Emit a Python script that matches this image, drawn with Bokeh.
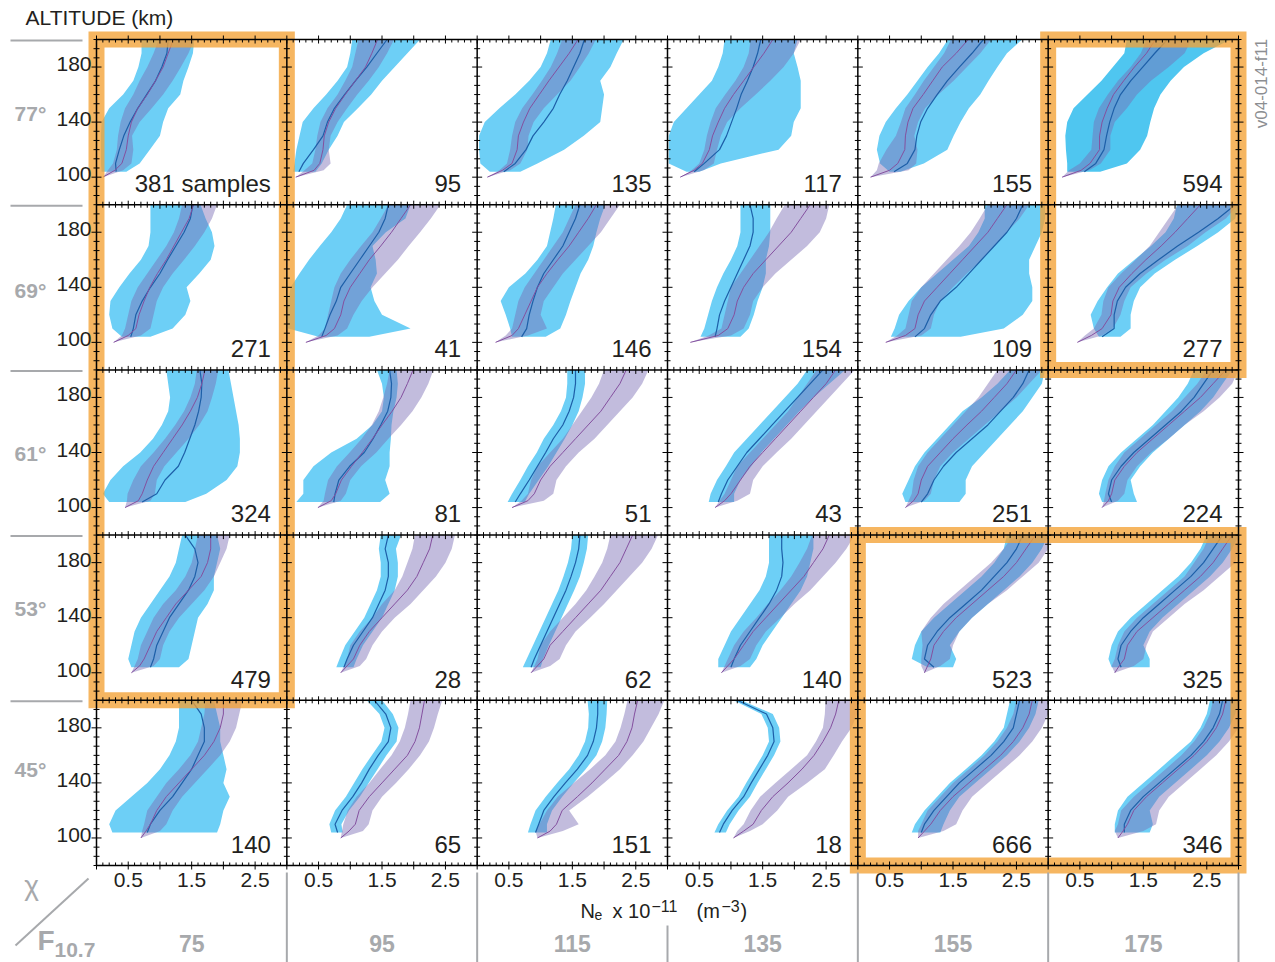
import numpy as np
from bokeh.plotting import figure
from bokeh.models import Range1d, ColumnDataSource
from bokeh.core.properties import value
from bokeh.embed import file_html
from bokeh.resources import INLINE

# ---------------- data ----------------
CHI = ["77°", "69°", "61°", "53°", "45°"]
CHI_LABEL_ALT = [146, 138, 139, 147, 150]      # altitude level of each row label
F107 = ["75", "95", "115", "135", "155", "175"]
SAMPLES = [381, 95, 135, 117, 155, 594,
           271, 41, 146, 154, 109, 277,
           324, 81, 51, 43, 251, 224,
           479, 28, 62, 140, 523, 325,
           140, 65, 151, 18, 666, 346]
X_TICK_LABELS = ["0.5", "1.5", "2.5"]
Y_TICK_LABELS = ["100", "140", "180"]
ALT_MODEL = [100, 105, 110, 120, 130, 140, 150, 160, 170, 180, 190, 200]
ALT_DATA = [104, 110, 120, 130, 140, 150, 160, 170, 180, 190, 200]
HIGHLIGHT = [(0, 0, 0, 3), (5, 5, 0, 1), (4, 5, 3, 4)]  # col0, col1, row0, row1

MODEL_MID = [
    [0.10, 0.29, 0.40, 0.47, 0.50, 0.55, 0.65, 0.80, 0.93, 1.05, 1.13, 1.21],
    [0.14, 0.43, 0.52, 0.57, 0.59, 0.66, 0.77, 0.92, 1.08, 1.24, 1.34, 1.43],
    [0.16, 0.40, 0.55, 0.63, 0.65, 0.73, 0.83, 0.98, 1.13, 1.29, 1.45, 1.59],
    [0.20, 0.42, 0.55, 0.66, 0.71, 0.80, 0.90, 1.04, 1.20, 1.36, 1.52, 1.66],
    [0.20, 0.50, 0.63, 0.74, 0.75, 0.79, 0.87, 1.03, 1.18, 1.33, 1.55, 1.74],
    [0.22, 0.52, 0.66, 0.81, 0.81, 0.85, 0.93, 1.03, 1.19, 1.36, 1.55, 1.69],
    [0.27, 0.50, 0.62, 0.67, 0.75, 0.84, 0.96, 1.10, 1.22, 1.34, 1.46, 1.53],
    [0.30, 0.62, 0.75, 0.85, 0.90, 1.00, 1.15, 1.30, 1.48, 1.65, 1.80, 1.95],
    [0.29, 0.55, 0.65, 0.75, 0.85, 0.95, 1.10, 1.27, 1.45, 1.60, 1.75, 1.88],
    [0.36, 0.80, 0.95, 1.05, 1.10, 1.20, 1.35, 1.55, 1.75, 1.95, 2.10, 2.25],
    [0.44, 0.75, 0.90, 0.95, 1.05, 1.25, 1.45, 1.65, 1.85, 2.05, 2.20, 2.35],
    [0.46, 0.68, 0.85, 0.99, 1.02, 1.12, 1.32, 1.54, 1.78, 2.00, 2.20, 2.40],
    [0.45, 0.66, 0.72, 0.80, 0.90, 1.05, 1.20, 1.35, 1.48, 1.59, 1.66, 1.71],
    [0.49, 0.70, 0.77, 0.86, 1.02, 1.19, 1.35, 1.50, 1.66, 1.80, 1.90, 1.99],
    [0.55, 0.80, 0.90, 1.00, 1.15, 1.35, 1.55, 1.75, 1.95, 2.10, 2.25, 2.35],
    [0.75, 0.90, 1.00, 1.15, 1.30, 1.50, 1.70, 1.90, 2.10, 2.30, 2.50, 2.65],
    [0.75, 0.88, 0.95, 1.00, 1.10, 1.30, 1.50, 1.72, 1.95, 2.15, 2.35, 2.50],
    [0.85, 0.95, 1.00, 1.05, 1.20, 1.40, 1.65, 1.90, 2.15, 2.40, 2.60, 2.80],
    [0.55, 0.68, 0.75, 0.85, 0.95, 1.10, 1.25, 1.45, 1.65, 1.75, 1.80, 1.80],
    [0.85, 0.95, 1.05, 1.15, 1.30, 1.50, 1.70, 1.90, 2.05, 2.15, 2.25, 2.30],
    [0.85, 0.95, 1.05, 1.15, 1.35, 1.55, 1.75, 1.95, 2.10, 2.25, 2.35, 2.45],
    [0.85, 0.95, 1.05, 1.20, 1.35, 1.55, 1.75, 1.95, 2.15, 2.30, 2.45, 2.55],
    [1.05, 1.10, 1.15, 1.20, 1.35, 1.55, 1.80, 2.05, 2.30, 2.50, 2.65, 2.80],
    [1.05, 1.12, 1.20, 1.25, 1.40, 1.65, 1.90, 2.15, 2.40, 2.60, 2.75, 2.90],
    [0.70, 0.78, 0.85, 0.95, 1.10, 1.30, 1.50, 1.70, 1.85, 1.95, 2.00, 2.00],
    [0.85, 0.98, 1.08, 1.14, 1.30, 1.50, 1.70, 1.90, 2.02, 2.09, 2.13, 2.17],
    [0.95, 1.15, 1.25, 1.34, 1.58, 1.81, 2.02, 2.23, 2.36, 2.44, 2.48, 2.53],
    [1.04, 1.20, 1.35, 1.48, 1.66, 1.90, 2.12, 2.31, 2.45, 2.57, 2.65, 2.70],
    [0.95, 1.05, 1.15, 1.30, 1.50, 1.75, 2.00, 2.25, 2.45, 2.60, 2.70, 2.75],
    [1.10, 1.18, 1.25, 1.35, 1.55, 1.80, 2.05, 2.30, 2.50, 2.65, 2.75, 2.80],
]
MODEL_LO = [
    [0.10, 0.18, 0.26, 0.32, 0.34, 0.38, 0.45, 0.58, 0.68, 0.80, 0.90, 0.98],
    [0.14, 0.28, 0.40, 0.45, 0.48, 0.53, 0.64, 0.80, 0.92, 1.03, 1.08, 1.13],
    [0.16, 0.35, 0.47, 0.52, 0.55, 0.60, 0.71, 0.87, 1.02, 1.16, 1.26, 1.34],
    [0.20, 0.38, 0.50, 0.58, 0.62, 0.68, 0.76, 0.91, 1.07, 1.20, 1.28, 1.31],
    [0.20, 0.30, 0.33, 0.45, 0.60, 0.68, 0.75, 0.90, 1.04, 1.20, 1.36, 1.47],
    [0.22, 0.33, 0.50, 0.68, 0.70, 0.72, 0.80, 0.94, 1.10, 1.30, 1.46, 1.55],
    [0.27, 0.40, 0.45, 0.50, 0.55, 0.65, 0.80, 0.95, 1.10, 1.22, 1.30, 1.35],
    [0.30, 0.50, 0.60, 0.65, 0.70, 0.75, 0.85, 1.00, 1.17, 1.35, 1.48, 1.60],
    [0.29, 0.45, 0.55, 0.60, 0.65, 0.75, 0.90, 1.05, 1.20, 1.35, 1.45, 1.55],
    [0.36, 0.65, 0.85, 0.90, 0.95, 1.00, 1.15, 1.30, 1.45, 1.60, 1.72, 1.85],
    [0.44, 0.62, 0.75, 0.80, 0.85, 1.00, 1.20, 1.40, 1.60, 1.78, 1.92, 2.05],
    [0.46, 0.58, 0.72, 0.84, 0.87, 0.95, 1.15, 1.38, 1.60, 1.75, 1.90, 2.05],
    [0.45, 0.48, 0.49, 0.58, 0.70, 0.90, 1.08, 1.24, 1.38, 1.48, 1.55, 1.58],
    [0.49, 0.58, 0.60, 0.65, 0.79, 0.99, 1.18, 1.34, 1.45, 1.52, 1.58, 1.62],
    [0.55, 0.70, 0.80, 0.85, 0.95, 1.15, 1.35, 1.50, 1.65, 1.80, 1.92, 2.00],
    [0.75, 0.82, 0.90, 1.00, 1.10, 1.30, 1.50, 1.70, 1.90, 2.05, 2.20, 2.35],
    [0.75, 0.80, 0.85, 0.88, 0.95, 1.10, 1.30, 1.50, 1.70, 1.90, 2.05, 2.20],
    [0.85, 0.88, 0.90, 0.95, 1.05, 1.20, 1.45, 1.70, 1.95, 2.15, 2.35, 2.50],
    [0.55, 0.60, 0.65, 0.70, 0.80, 0.90, 1.05, 1.25, 1.40, 1.50, 1.55, 1.60],
    [0.85, 0.90, 0.95, 1.00, 1.15, 1.35, 1.50, 1.70, 1.82, 1.90, 1.98, 2.02],
    [0.85, 0.90, 0.95, 1.00, 1.15, 1.35, 1.55, 1.72, 1.85, 1.97, 2.05, 2.10],
    [0.85, 0.90, 0.95, 1.05, 1.20, 1.40, 1.58, 1.78, 1.95, 2.08, 2.20, 2.28],
    [1.05, 1.00, 1.00, 1.02, 1.00, 1.15, 1.35, 1.60, 1.85, 2.10, 2.30, 2.45],
    [1.05, 1.00, 1.05, 1.10, 1.20, 1.40, 1.65, 1.90, 2.15, 2.30, 2.45, 2.55],
    [0.70, 0.72, 0.75, 0.80, 0.95, 1.10, 1.30, 1.48, 1.60, 1.65, 1.70, 1.72],
    [0.85, 0.87, 0.89, 0.96, 1.10, 1.30, 1.47, 1.65, 1.78, 1.86, 1.91, 1.95],
    [0.95, 0.92, 0.98, 1.10, 1.27, 1.52, 1.78, 2.02, 2.18, 2.26, 2.32, 2.37],
    [1.04, 1.10, 1.20, 1.31, 1.46, 1.70, 1.95, 2.20, 2.34, 2.45, 2.48, 2.49],
    [0.95, 0.95, 1.00, 1.10, 1.30, 1.50, 1.75, 2.00, 2.20, 2.35, 2.45, 2.50],
    [1.10, 1.05, 1.10, 1.15, 1.35, 1.60, 1.85, 2.10, 2.30, 2.45, 2.55, 2.60],
]
MODEL_HI = [
    [0.10, 0.42, 0.55, 0.58, 0.56, 0.68, 0.87, 1.05, 1.20, 1.33, 1.45, 1.54],
    [0.14, 0.58, 0.69, 0.66, 0.69, 0.80, 0.95, 1.11, 1.29, 1.45, 1.58, 1.69],
    [0.16, 0.52, 0.68, 0.79, 0.81, 0.89, 1.05, 1.26, 1.47, 1.62, 1.76, 1.87],
    [0.20, 0.57, 0.73, 0.78, 0.84, 0.94, 1.15, 1.39, 1.62, 1.83, 1.99, 2.10],
    [0.20, 0.80, 0.92, 0.94, 0.89, 0.95, 1.06, 1.27, 1.51, 1.72, 1.93, 2.10],
    [0.22, 0.65, 0.83, 0.98, 0.98, 1.05, 1.24, 1.40, 1.62, 1.90, 2.15, 2.26],
    [0.27, 0.70, 0.85, 0.90, 0.95, 1.05, 1.20, 1.38, 1.55, 1.70, 1.82, 1.90],
    [0.30, 0.80, 0.95, 1.05, 1.18, 1.35, 1.55, 1.75, 1.92, 2.10, 2.27, 2.42],
    [0.29, 0.80, 1.10, 1.00, 1.05, 1.20, 1.35, 1.55, 1.75, 1.95, 2.10, 2.25],
    [0.36, 1.00, 1.20, 1.30, 1.35, 1.50, 1.70, 1.95, 2.20, 2.40, 2.50, 2.55],
    [0.44, 1.00, 1.15, 1.20, 1.30, 1.50, 1.72, 1.95, 2.15, 2.35, 2.55, 2.70],
    [0.46, 0.85, 1.02, 1.14, 1.20, 1.30, 1.55, 1.85, 2.20, 2.48, 2.80, 3.00],
    [0.45, 0.85, 0.92, 0.95, 1.07, 1.26, 1.45, 1.62, 1.75, 1.82, 1.88, 1.92],
    [0.49, 0.85, 0.93, 1.00, 1.17, 1.41, 1.60, 1.80, 1.98, 2.12, 2.23, 2.31],
    [0.55, 1.05, 1.20, 1.25, 1.40, 1.60, 1.85, 2.05, 2.25, 2.45, 2.60, 2.70],
    [0.75, 1.10, 1.30, 1.35, 1.50, 1.72, 1.95, 2.15, 2.35, 2.55, 2.75, 2.95],
    [0.75, 1.05, 1.15, 1.20, 1.30, 1.50, 1.75, 2.00, 2.25, 2.50, 2.70, 2.90],
    [0.85, 1.10, 1.20, 1.25, 1.40, 1.62, 1.90, 2.15, 2.45, 2.70, 2.90, 3.00],
    [0.55, 0.90, 1.00, 1.05, 1.15, 1.30, 1.50, 1.70, 1.85, 1.95, 2.05, 2.10],
    [0.85, 1.15, 1.25, 1.35, 1.50, 1.70, 1.95, 2.15, 2.35, 2.50, 2.60, 2.65],
    [0.85, 1.15, 1.30, 1.40, 1.55, 1.78, 2.00, 2.20, 2.40, 2.60, 2.75, 2.85],
    [0.85, 1.15, 1.30, 1.40, 1.55, 1.78, 2.00, 2.25, 2.45, 2.65, 2.82, 2.95],
    [1.05, 1.30, 1.45, 1.50, 1.60, 1.80, 2.05, 2.35, 2.60, 2.85, 3.00, 3.00],
    [1.05, 1.35, 1.50, 1.55, 1.65, 1.90, 2.15, 2.45, 2.70, 2.95, 3.00, 3.00],
    [0.70, 1.00, 1.10, 1.20, 1.35, 1.55, 1.75, 1.95, 2.10, 2.20, 2.25, 2.30],
    [0.85, 1.20, 1.29, 1.35, 1.50, 1.72, 1.92, 2.10, 2.24, 2.32, 2.38, 2.45],
    [0.95, 1.35, 1.60, 1.45, 1.74, 2.00, 2.25, 2.45, 2.62, 2.74, 2.86, 2.95],
    [1.04, 1.30, 1.50, 1.73, 1.90, 2.20, 2.48, 2.62, 2.75, 2.90, 2.99, 3.00],
    [0.95, 1.35, 1.55, 1.65, 1.80, 2.05, 2.30, 2.55, 2.75, 2.90, 3.00, 3.00],
    [1.10, 1.50, 1.70, 1.75, 1.90, 2.15, 2.40, 2.65, 2.85, 3.00, 3.00, 3.00],
]
DATA_MID = [
    [0.31, 0.30, 0.36, 0.43, 0.53, 0.65, 0.79, 0.93, 1.03, 1.11, 1.13],
    [0.19, 0.26, 0.42, 0.57, 0.64, 0.75, 0.91, 1.08, 1.26, 1.42, 1.58],
    [0.42, 0.60, 0.77, 0.88, 1.05, 1.20, 1.30, 1.42, 1.52, 1.62, 1.69],
    [0.42, 0.58, 0.82, 0.93, 1.01, 1.09, 1.16, 1.26, 1.35, 1.42, 1.47],
    [0.57, 0.78, 0.90, 0.93, 0.99, 1.10, 1.25, 1.41, 1.60, 1.80, 1.98],
    [0.57, 0.75, 0.88, 0.92, 0.97, 1.04, 1.14, 1.30, 1.49, 1.68, 1.88],
    [0.54, 0.58, 0.62, 0.72, 0.85, 1.00, 1.12, 1.25, 1.38, 1.48, 1.52],
    [0.55, 0.60, 0.68, 0.78, 0.85, 1.00, 1.15, 1.30, 1.45, 1.55, 1.60],
    [0.70, 0.78, 0.82, 0.88, 0.95, 1.05, 1.20, 1.35, 1.45, 1.55, 1.62],
    [0.75, 0.78, 0.82, 0.90, 1.00, 1.10, 1.20, 1.30, 1.35, 1.35, 1.30],
    [0.90, 1.05, 1.15, 1.30, 1.55, 1.75, 1.95, 2.15, 2.35, 2.50, 2.60],
    [0.85, 1.04, 1.04, 1.09, 1.22, 1.45, 1.74, 2.04, 2.37, 2.68, 2.95],
    [0.72, 0.95, 1.08, 1.29, 1.39, 1.47, 1.55, 1.61, 1.65, 1.66, 1.63],
    [0.74, 0.76, 0.82, 0.99, 1.22, 1.36, 1.48, 1.59, 1.64, 1.65, 1.62],
    [0.60, 0.68, 0.82, 0.95, 1.08, 1.20, 1.35, 1.45, 1.52, 1.55, 1.55],
    [0.80, 0.85, 0.95, 1.10, 1.25, 1.45, 1.65, 1.85, 2.05, 2.25, 2.45],
    [1.00, 1.10, 1.20, 1.35, 1.55, 1.80, 2.05, 2.25, 2.45, 2.60, 2.70],
    [1.00, 0.95, 1.00, 1.15, 1.35, 1.60, 1.85, 2.10, 2.30, 2.45, 2.60],
    [0.85, 0.90, 0.95, 1.05, 1.15, 1.30, 1.45, 1.55, 1.60, 1.55, 1.40],
    [0.90, 0.95, 1.05, 1.20, 1.35, 1.45, 1.55, 1.60, 1.60, 1.55, 1.60],
    [0.85, 0.90, 1.00, 1.10, 1.20, 1.30, 1.40, 1.48, 1.55, 1.60, 1.62],
    [1.00, 1.05, 1.15, 1.30, 1.45, 1.60, 1.72, 1.80, 1.82, 1.80, 1.80],
    [1.20, 1.05, 1.10, 1.25, 1.45, 1.70, 1.95, 2.15, 2.35, 2.50, 2.60],
    [1.15, 1.10, 1.15, 1.30, 1.50, 1.75, 2.00, 2.25, 2.45, 2.60, 2.75],
    [0.80, 0.85, 1.00, 1.20, 1.35, 1.50, 1.60, 1.70, 1.70, 1.65, 1.50],
    [0.80, 0.76, 0.87, 1.04, 1.18, 1.30, 1.44, 1.60, 1.64, 1.56, 1.38],
    [0.92, 0.97, 1.05, 1.21, 1.39, 1.58, 1.74, 1.83, 1.88, 1.90, 1.90],
    [0.82, 0.88, 1.02, 1.20, 1.32, 1.45, 1.58, 1.68, 1.66, 1.56, 1.10],
    [1.00, 1.05, 1.20, 1.40, 1.60, 1.85, 2.10, 2.30, 2.45, 2.50, 2.55],
    [1.20, 1.20, 1.30, 1.50, 1.75, 2.00, 2.25, 2.45, 2.60, 2.70, 2.75],
]
DATA_LO = [
    [0.08, 0.07, 0.07, 0.07, 0.08, 0.20, 0.42, 0.58, 0.66, 0.71, 0.71],
    [0.10, 0.12, 0.15, 0.20, 0.25, 0.42, 0.62, 0.80, 0.95, 1.00, 1.03],
    [0.20, 0.05, 0.03, 0.03, 0.12, 0.35, 0.60, 0.82, 1.00, 1.10, 1.16],
    [0.30, 0.02, 0.02, 0.02, 0.10, 0.30, 0.50, 0.70, 0.80, 0.87, 0.90],
    [0.50, 0.35, 0.30, 0.34, 0.44, 0.60, 0.78, 0.94, 1.10, 1.28, 1.42],
    [0.30, 0.30, 0.28, 0.27, 0.30, 0.40, 0.62, 0.84, 1.02, 1.20, 1.24],
    [0.40, 0.25, 0.20, 0.22, 0.36, 0.52, 0.70, 0.82, 0.85, 0.85, 0.85],
    [0.50, 0.02, 0.02, 0.02, 0.06, 0.20, 0.35, 0.52, 0.70, 0.85, 0.95],
    [0.55, 0.52, 0.45, 0.37, 0.50, 0.76, 0.95, 1.10, 1.15, 1.20, 1.24],
    [0.52, 0.58, 0.64, 0.70, 0.78, 0.88, 1.00, 1.10, 1.15, 1.15, 1.15],
    [0.52, 0.58, 0.65, 0.80, 1.00, 1.25, 1.50, 1.75, 1.90, 2.00, 2.00],
    [0.80, 0.72, 0.67, 0.78, 0.93, 1.10, 1.36, 1.62, 1.85, 1.98, 2.03],
    [0.20, 0.10, 0.22, 0.42, 0.69, 0.89, 1.03, 1.13, 1.16, 1.13, 1.10],
    [0.15, 0.26, 0.26, 0.42, 0.70, 1.10, 1.35, 1.50, 1.53, 1.50, 1.42],
    [0.48, 0.55, 0.68, 0.80, 0.94, 1.05, 1.20, 1.32, 1.40, 1.42, 1.42],
    [0.65, 0.68, 0.78, 0.92, 1.05, 1.25, 1.45, 1.65, 1.85, 2.05, 2.20],
    [0.75, 0.70, 0.80, 0.90, 1.05, 1.25, 1.45, 1.65, 1.95, 2.20, 2.40],
    [0.85, 0.80, 0.85, 0.95, 1.15, 1.40, 1.65, 1.85, 2.05, 2.20, 2.30],
    [0.55, 0.50, 0.55, 0.60, 0.70, 0.85, 1.00, 1.15, 1.25, 1.30, 1.35],
    [0.78, 0.83, 0.92, 1.07, 1.22, 1.32, 1.42, 1.48, 1.48, 1.45, 1.48],
    [0.72, 0.78, 0.88, 0.98, 1.08, 1.18, 1.28, 1.36, 1.43, 1.48, 1.50],
    [0.80, 0.80, 0.90, 1.00, 1.15, 1.30, 1.45, 1.55, 1.60, 1.60, 1.60],
    [1.10, 0.85, 0.90, 1.00, 1.20, 1.45, 1.70, 1.95, 2.15, 2.30, 2.35],
    [1.00, 0.95, 1.00, 1.10, 1.30, 1.55, 1.80, 2.05, 2.25, 2.40, 2.50],
    [0.25, 0.20, 0.30, 0.55, 0.80, 1.00, 1.15, 1.25, 1.30, 1.30, 1.30],
    [0.70, 0.67, 0.76, 0.93, 1.06, 1.19, 1.34, 1.49, 1.54, 1.46, 1.26],
    [0.80, 0.84, 0.92, 1.08, 1.26, 1.45, 1.60, 1.70, 1.75, 1.76, 1.74],
    [0.74, 0.80, 0.94, 1.12, 1.24, 1.37, 1.50, 1.60, 1.58, 1.48, 1.04],
    [0.85, 0.90, 1.05, 1.25, 1.45, 1.70, 1.95, 2.15, 2.30, 2.35, 2.40],
    [1.05, 1.05, 1.10, 1.25, 1.50, 1.75, 2.00, 2.25, 2.40, 2.50, 2.55],
]
DATA_HI = [
    [0.47, 0.68, 0.84, 1.00, 1.05, 1.13, 1.32, 1.37, 1.45, 1.52, 1.54],
    [0.45, 0.55, 0.66, 0.80, 0.90, 1.12, 1.33, 1.50, 1.70, 1.90, 2.10],
    [0.68, 0.95, 1.37, 1.68, 1.94, 1.97, 2.00, 1.94, 2.10, 2.20, 2.31],
    [0.50, 0.84, 1.75, 1.95, 1.99, 2.10, 2.10, 2.10, 2.05, 1.99, 2.05],
    [0.67, 1.04, 1.41, 1.51, 1.62, 1.75, 1.93, 2.06, 2.20, 2.35, 2.59],
    [0.82, 1.24, 1.45, 1.56, 1.61, 1.67, 1.77, 1.93, 2.14, 2.45, 2.87],
    [0.85, 1.20, 1.40, 1.48, 1.42, 1.62, 1.80, 1.86, 1.82, 1.72, 1.64],
    [1.30, 1.95, 1.50, 1.38, 1.32, 1.42, 1.40, 1.35, 1.56, 1.87, 1.95],
    [1.08, 1.31, 1.40, 1.47, 1.55, 1.63, 1.75, 1.83, 1.88, 1.94, 2.02],
    [1.15, 1.28, 1.36, 1.42, 1.50, 1.55, 1.55, 1.60, 1.62, 1.62, 1.62],
    [1.62, 2.30, 2.60, 2.75, 2.75, 2.70, 2.70, 2.80, 2.90, 2.95, 2.95],
    [1.14, 1.30, 1.30, 1.35, 1.45, 1.68, 2.00, 2.35, 2.68, 2.95, 3.00],
    [1.40, 1.73, 2.05, 2.22, 2.26, 2.26, 2.24, 2.20, 2.16, 2.12, 2.08],
    [1.47, 1.62, 1.55, 1.62, 1.62, 1.64, 1.65, 1.68, 1.73, 1.75, 1.73],
    [0.75, 0.82, 0.97, 1.12, 1.25, 1.38, 1.50, 1.60, 1.66, 1.70, 1.70],
    [1.05, 1.05, 1.15, 1.32, 1.48, 1.68, 1.88, 2.08, 2.30, 2.55, 2.80],
    [1.60, 1.70, 1.70, 1.80, 2.00, 2.20, 2.40, 2.60, 2.75, 2.90, 2.95],
    [1.40, 1.35, 1.30, 1.45, 1.65, 1.90, 2.15, 2.40, 2.60, 2.75, 2.90],
    [1.30, 1.45, 1.50, 1.55, 1.60, 1.75, 1.85, 1.85, 1.90, 1.95, 1.90],
    [1.05, 1.10, 1.20, 1.35, 1.50, 1.60, 1.70, 1.75, 1.75, 1.72, 1.80],
    [1.00, 1.04, 1.13, 1.23, 1.33, 1.43, 1.53, 1.62, 1.68, 1.73, 1.75],
    [1.30, 1.40, 1.50, 1.65, 1.80, 1.95, 2.10, 2.20, 2.25, 2.30, 2.30],
    [1.50, 1.55, 1.45, 1.60, 1.80, 2.05, 2.30, 2.55, 2.75, 2.90, 3.00],
    [1.60, 1.60, 1.50, 1.60, 1.80, 2.05, 2.30, 2.55, 2.75, 2.90, 3.00],
    [1.90, 1.95, 2.00, 2.10, 2.00, 2.05, 2.00, 1.95, 1.95, 1.90, 1.85],
    [0.88, 0.86, 0.98, 1.15, 1.29, 1.43, 1.57, 1.73, 1.76, 1.67, 1.50],
    [1.10, 1.10, 1.18, 1.34, 1.52, 1.71, 1.88, 1.97, 2.02, 2.04, 2.05],
    [0.92, 0.98, 1.12, 1.30, 1.42, 1.55, 1.68, 1.78, 1.76, 1.66, 1.16],
    [1.30, 1.35, 1.45, 1.60, 1.85, 2.10, 2.35, 2.55, 2.70, 2.80, 2.85],
    [1.60, 1.65, 1.60, 1.75, 2.00, 2.25, 2.50, 2.70, 2.85, 2.95, 3.00],
]

# ---------------- style / layout ----------------
FONT = "Liberation Sans"
DARK = "#231f20"
GREY = "#a7a9ac"
BLUE = "#6dcff6"
BLUE_STRONG = "#4fc6f0"
PURPLE_FILL = "#786ab4"
DATA_LINE = "#1d5fa8"
MODEL_LINE = "#84509f"
ORANGE = "#f3a134"

W, H = 1275, 962                     # canvas
GRID_L, GRID_T = 96, 39              # grid position on the canvas (px)
FRAME_W, FRAME_H = 1142, 826         # grid size (px)
NCOL, NROW = 6, 5
PW, PH = 3.0, 120.0                  # panel width (Ne units) / height (km)
SX = FRAME_W / (NCOL * PW)           # px per Ne unit
SY = FRAME_H / (NROW * PH)           # px per km


def gx(c, ne):
    return c * PW + float(np.clip(ne, 0.0, PW))


def gy(r, alt):
    return (NROW - 1 - r) * PH + (alt - 80.0)


def dx(px):
    return px / SX


def dy(px):
    return px / SY


GRID_B = GRID_T + FRAME_H
p = figure(width=W, height=H,
           x_range=Range1d(-dx(GRID_L), dx(W - GRID_L)),
           y_range=Range1d(-dy(H - GRID_B), dy(GRID_B)),
           x_axis_location=None, y_axis_location=None,
           min_border=0, output_backend="svg", toolbar_location=None,
           background_fill_color="white", border_fill_color="white")
p.grid.visible = False
p.outline_line_color = None

# ---------------- bands & lines ----------------
bx, by, bc = [], [], []
mx, my = [], []
dlx, dly, mlx, mly = [], [], [], []
for i in range(NROW * NCOL):
    r, c = divmod(i, NCOL)
    bx.append([gx(c, v) for v in DATA_LO[i]] + [gx(c, v) for v in DATA_HI[i][::-1]])
    by.append([gy(r, a) for a in ALT_DATA] + [gy(r, a) for a in ALT_DATA[::-1]])
    bc.append(BLUE_STRONG if SAMPLES[i] == 594 else BLUE)
    mx.append([gx(c, v) for v in MODEL_LO[i]] + [gx(c, v) for v in MODEL_HI[i][::-1]])
    my.append([gy(r, a) for a in ALT_MODEL] + [gy(r, a) for a in ALT_MODEL[::-1]])
    dlx.append([gx(c, v) for v in DATA_MID[i]])
    dly.append([gy(r, a) for a in ALT_DATA])
    mlx.append([gx(c, v) for v in MODEL_MID[i]])
    mly.append([gy(r, a) for a in ALT_MODEL])

p.patches(xs="xs", ys="ys", fill_color="c", line_color=None,
          source=ColumnDataSource(dict(xs=bx, ys=by, c=bc)))
p.patches(xs=mx, ys=my, fill_color=PURPLE_FILL, fill_alpha=0.45, line_color=None)
p.multi_line(xs=dlx, ys=dly, line_color=DATA_LINE, line_width=1.2)
p.multi_line(xs=mlx, ys=mly, line_color=MODEL_LINE, line_width=1.0)

# ---------------- highlight boxes ----------------
p.quad(left=[h[0] * PW for h in HIGHLIGHT], right=[(h[1] + 1) * PW for h in HIGHLIGHT],
       top=[gy(h[2], 200) for h in HIGHLIGHT], bottom=[gy(h[3], 80) for h in HIGHLIGHT],
       fill_alpha=0, line_color=ORANGE, line_width=16, line_alpha=0.78,
       line_join="miter")

# ---------------- borders and ticks ----------------
x_major = sorted({round(c * PW + k * 0.5, 3) for c in range(NCOL) for k in range(7)})
x_minor = [round(m * 0.1, 3) for m in range(int(NCOL * PW * 10) + 1)]
y_major = [gy(r, float(a)) for r in range(NROW) for a in Y_TICK_LABELS]
y_minor = [round(k * 20.0 / 3.0, 4) for k in range(int(NROW * PH * 3 / 20) + 1)]

sx0, sy0, sx1, sy1 = [], [], [], []
for c in range(NCOL + 1):
    X = c * PW
    for t in y_minor:
        L = dx(5 if any(abs(t - m) < 1e-6 for m in y_major) else 3)
        sx0.append(X - L); sy0.append(t); sx1.append(X + L); sy1.append(t)
for r in range(NROW + 1):
    Y = r * PH
    for t in x_minor:
        major = any(abs(t - m) < 1e-6 for m in x_major)
        L = dy(4 if major else 3)
        lo = Y - L if (r > 0 or major) else Y
        hi = Y + L if (r < NROW or major) else Y
        sx0.append(t); sy0.append(lo); sx1.append(t); sy1.append(hi)
p.segment(x0=sx0, y0=sy0, x1=sx1, y1=sy1, line_color="black", line_width=1)

vx = [c * PW for c in range(NCOL + 1)]
hy = [r * PH for r in range(NROW + 1)]
p.segment(x0=vx + [0] * len(hy), y0=[0] * len(vx) + hy,
          x1=vx + [NCOL * PW] * len(hy), y1=[NROW * PH] * len(vx) + hy,
          line_color="black", line_width=1.5)

# ---------------- texts ----------------
def txt(x, y, text, size, color=DARK, bold=False, align="center", baseline="middle", angle=0.0):
    p.text(x=x, y=y, text=text, text_font=value(FONT), text_font_size=size,
           text_color=color, text_font_style="bold" if bold else "normal",
           text_align=align, text_baseline=baseline, angle=angle)


# sample counts
txt([c * PW + PW - dx(16) for c in range(NCOL) for r in range(NROW)],
    [gy(r, 200) - dy(144) for c in range(NCOL) for r in range(NROW)],
    [(f"{SAMPLES[r * NCOL + c]} samples" if r * NCOL + c == 0 else str(SAMPLES[r * NCOL + c]))
     for c in range(NCOL) for r in range(NROW)],
    "24px", align="right")

# tick labels
txt([c * PW + float(t) for c in range(NCOL) for t in X_TICK_LABELS],
    [-dy(14)] * (NCOL * len(X_TICK_LABELS)),
    [t for c in range(NCOL) for t in X_TICK_LABELS], "21px")
txt([-dx(5)] * (NROW * len(Y_TICK_LABELS)),
    [gy(r, float(a)) + dy(3) for r in range(NROW) for a in Y_TICK_LABELS],
    [a for r in range(NROW) for a in Y_TICK_LABELS], "21px", align="right")

# axis title (altitude)
txt([-dx(71)], [NROW * PH + dy(22)], ["ALTITUDE (km)"], "21px", align="left")

# axis title Ne x 10^-11 (m^-3), set piecewise (main text, subscript, superscripts)
NE_PARTS = [("N", 0, 0, "20px"), ("e", 14, -4, "14px"), ("x 10", 32, 0, "20px"),
            ("−11", 71, 5, "16px"), ("(m", 116, 0, "20px"), ("−3", 141, 5, "16px"),
            (")", 160, 0, "20px")]
NE_LEFT = NCOL * PW / 2 - dx(87)
for s, off, rise, size in NE_PARTS:
    txt([NE_LEFT + dx(off)], [-dy(45) + dy(rise)], [s], size, align="left")

# group labels
txt([-dx(66)] * NROW, [gy(r, a) for r, a in enumerate(CHI_LABEL_ALT)], CHI, "21px", GREY, bold=True)
txt([c * PW + PW / 2 for c in range(NCOL)], [-dy(78)] * NCOL, F107, "23px", GREY, bold=True)
txt([-dx(65)], [-dy(20)], ["χ"], "28px", GREY)
txt([-dx(59)], [-dy(75)], ["F"], "28px", GREY, bold=True, align="left")
txt([-dx(42)], [-dy(84)], ["10.7"], "21px", GREY, bold=True, align="left")
txt([NCOL * PW + dx(23)], [NROW * PH - dy(44)], ["v04-014-f11"], "17px", "#8c8e91",
    angle=np.pi / 2)

# grey guide lines around the grid
gl_x0 = [-dx(86)] * NROW + [(c + 1) * PW for c in range(NCOL)] + [-dx(81)]
gl_x1 = [-dx(14)] * NROW + [(c + 1) * PW for c in range(NCOL)] + [-dx(8)]
gl_y0 = [gy(r, 200) - dy(1) for r in range(NROW)] + \
        [-dy(60) if c == 2 else -dy(7) for c in range(NCOL)] + [-dy(80)]
gl_y1 = [gy(r, 200) - dy(1) for r in range(NROW)] + [-dy(100)] * NCOL + [-dy(13)]
p.segment(x0=gl_x0, y0=gl_y0, x1=gl_x1, y1=gl_y1, line_color=GREY, line_width=2)

open("out.html", "w").write(file_html(p, INLINE))
